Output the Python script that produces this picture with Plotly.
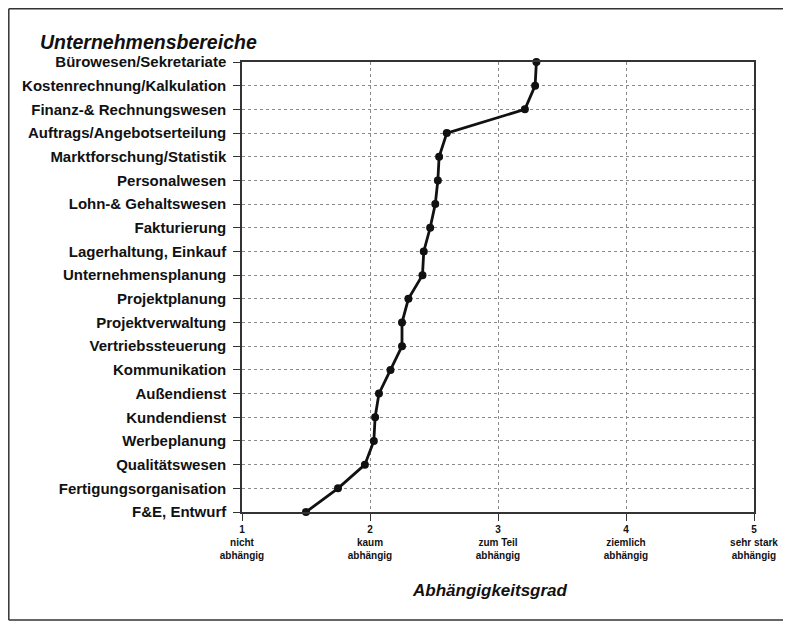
import plotly.graph_objects as go

categories = [
    "Bürowesen/Sekretariate",
    "Kostenrechnung/Kalkulation",
    "Finanz-& Rechnungswesen",
    "Auftrags/Angebotserteilung",
    "Marktforschung/Statistik",
    "Personalwesen",
    "Lohn-& Gehaltswesen",
    "Fakturierung",
    "Lagerhaltung, Einkauf",
    "Unternehmensplanung",
    "Projektplanung",
    "Projektverwaltung",
    "Vertriebssteuerung",
    "Kommunikation",
    "Außendienst",
    "Kundendienst",
    "Werbeplanung",
    "Qualitätswesen",
    "Fertigungsorganisation",
    "F&E, Entwurf",
]
values = [3.30, 3.29, 3.21, 2.60, 2.54, 2.53, 2.51, 2.47, 2.42, 2.41,
          2.30, 2.25, 2.25, 2.16, 2.07, 2.04, 2.03, 1.96, 1.75, 1.50]

tick_vals = [1, 2, 3, 4, 5]
tick_text = ["1<br>nicht<br>abhängig", "2<br>kaum<br>abhängig", "3<br>zum Teil<br>abhängig",
             "4<br>ziemlich<br>abhängig", "5<br>sehr stark<br>abhängig"]

# page has an 8px body margin; figure sized to fit the 791x621 window
OFF = 8
W, H = 791 - OFF, 621 - OFF
L, T = 242 - OFF, 62 - OFF
pw, ph = 512, 450
R, B = W - L - pw, H - T - ph

def px_to_paper(x, y):
    # x, y are screen pixel coordinates of the reference
    fx, fy = x - OFF, y - OFF
    return (fx - L) / pw, (T + ph - fy) / ph

FONT = "Liberation Sans, Arial, Helvetica, sans-serif"

fig = go.Figure()
fig.add_trace(go.Scatter(
    x=values, y=categories, mode="lines+markers",
    line=dict(color="#111111", width=2.8),
    marker=dict(color="#111111", size=8),
    cliponaxis=False, showlegend=False,
))

order = list(reversed(categories))
fig.update_yaxes(
    type="category", categoryorder="array", categoryarray=order,
    range=[0, len(categories) - 1],
    showgrid=True, gridcolor="#8a8a8a", griddash="dot", gridwidth=1,
    showline=True, linecolor="#333333", linewidth=1.5, mirror=True,
    ticks="outside", ticklen=7, tickcolor="#333333", tickwidth=1.2,
    ticklabelstandoff=4,
    tickfont=dict(family=FONT, size=15, color="#111111", weight="bold"),
    zeroline=False,
)
fig.update_xaxes(
    range=[1, 5], tickvals=tick_vals, ticktext=tick_text,
    showgrid=True, gridcolor="#8a8a8a", griddash="dot", gridwidth=1,
    showline=True, linecolor="#333333", linewidth=1.5, mirror=True,
    ticks="outside", ticklen=7, tickcolor="#333333", tickwidth=1.2,
    tickfont=dict(family=FONT, size=10, color="#111111", weight="bold"),
    zeroline=False,
)

# outer frame: top, left and bottom edges (right side runs off the page)
fx_left = (0.8 - L) / pw
fx_right = (W + 50 - L) / pw
fy_top = (T + ph - 0.8) / ph
fy_bottom = (T + ph - (620 - OFF)) / ph
frame_line = dict(color="#333333", width=1.5)
for (xa, ya, xb, yb) in [(fx_left, fy_top, fx_right, fy_top),
                         (fx_left, fy_top, fx_left, fy_bottom),
                         (fx_left, fy_bottom, fx_right, fy_bottom)]:
    fig.add_shape(type="line", xref="paper", yref="paper", x0=xa, y0=ya, x1=xb, y1=yb,
                  line=frame_line, layer="below")

ax, ay = px_to_paper(38, 42)
fig.add_annotation(text="<b><i>Unternehmensbereiche</i></b>", xref="paper", yref="paper",
                   x=ax, y=ay, xanchor="left", yanchor="middle", showarrow=False,
                   font=dict(family=FONT, size=19.5, color="#111111"))
bx, by = px_to_paper(490, 590)
fig.add_annotation(text="<b><i>Abhängigkeitsgrad</i></b>", xref="paper", yref="paper",
                   x=bx, y=by, xanchor="center", yanchor="middle", showarrow=False,
                   font=dict(family=FONT, size=17, color="#111111"))

fig.update_layout(
    width=W, height=H,
    margin=dict(l=L, r=R, t=T, b=B),
    paper_bgcolor="white", plot_bgcolor="white",
    font=dict(family=FONT, color="#111111"),
)
fig.write_html("out.html")
